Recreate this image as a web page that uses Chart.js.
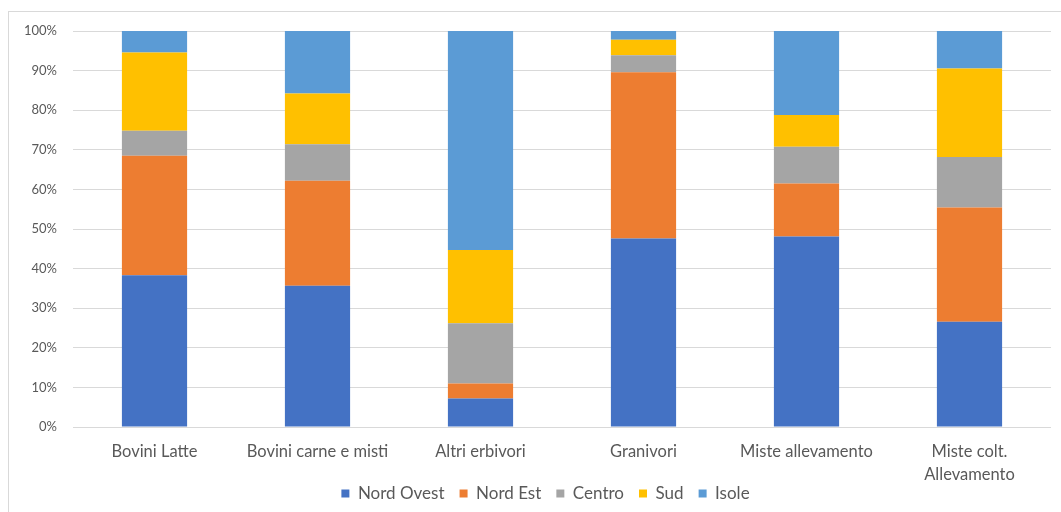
<!DOCTYPE html>
<html>
<head>
<meta charset="utf-8">
<script src="https://cdn.jsdelivr.net/npm/chart.js@4/dist/chart.umd.min.js"></script>
<style>
  html, body { margin: 0; padding: 0; background: #fff; }
  #wrap { position: relative; width: 1061px; height: 512px; overflow: hidden; }
  #frame { position: absolute; left: 8px; top: 11px; width: 1100px; height: 600px; border: 1px solid #d9d9d9; box-sizing: border-box; }
  canvas { position: absolute; left: 0; top: 0; }
</style>
</head>
<body>
<div id="wrap">
  <div id="frame"></div>
  <canvas id="c" width="1061" height="512"></canvas>
</div>
<script>
const categories = ["Bovini Latte", "Bovini carne e misti", "Altri erbivori", "Granivori", "Miste allevamento", ["Miste colt.", "Allevamento"]];
const nordOvest = [38.3, 35.7, 7.2, 47.6, 48.1, 26.6];
const nordEst   = [30.2, 26.5, 3.8, 42.0, 13.4, 28.8];
const centro    = [6.3, 9.2, 15.2, 4.3, 9.3, 12.8];
const sud       = [19.8, 12.8, 18.5, 3.9, 8.0, 22.3];
const isole     = [5.4, 15.8, 55.3, 2.2, 21.2, 9.5];
const yTicks = [0, 10, 20, 30, 40, 50, 60, 70, 80, 90, 100];

const FONT = "Lato, 'Open Sans', sans-serif";
const TXT = "#595959";

const mk = (label, data, color) => ({
  label, data, backgroundColor: color, borderWidth: 0,
  categoryPercentage: 0.8, barPercentage: 0.5
});

const shiftLegend = {
  id: "shiftLegend",
  afterLayout(chart) {
    if (chart.legend) { chart.legend.left += 20; chart.legend.right += 20; }
  }
};

new Chart(document.getElementById("c"), {
  type: "bar",
  data: {
    labels: categories,
    datasets: [
      mk("Nord Ovest", nordOvest, "#4472C4"),
      mk("Nord Est", nordEst, "#ED7D31"),
      mk("Centro", centro, "#A5A5A5"),
      mk("Sud", sud, "#FFC000"),
      mk("Isole", isole, "#5B9BD5")
    ]
  },
  plugins: [shiftLegend],
  options: {
    responsive: false,
    animation: false,
    devicePixelRatio: 1,
    layout: { padding: { left: 0, right: 10, top: 31, bottom: 0 } },
    plugins: {
      tooltip: { enabled: false },
      legend: {
        position: "bottom",
        labels: {
          font: { family: FONT, size: 17 },
          color: TXT,
          boxWidth: 8, boxHeight: 8, padding: 2,
          generateLabels: (chart) => {
            const items = Chart.defaults.plugins.legend.labels.generateLabels(chart);
            const n = items.length;
            items.forEach((it, i) => { if (i < n - 1) it.text = it.text + "\u00a0\u00a0\u00a0"; });
            return items;
          }
        }
      }
    },
    scales: {
      x: {
        stacked: true,
        grid: { display: false, drawTicks: false },
        border: { display: false },
        ticks: {
          color: TXT, padding: 13, maxRotation: 0, autoSkip: false,
          font: { family: FONT, size: 16.5, lineHeight: 1.39 }
        },
        afterFit: (s) => { s.height = 56; }
      },
      y: {
        stacked: true,
        min: 0, max: 100,
        afterBuildTicks: (s) => { s.ticks = yTicks.map(v => ({ value: v })); },
        grid: { color: "#d9d9d9", lineWidth: 1, drawTicks: false },
        border: { display: false },
        ticks: {
          color: TXT, padding: 16,
          font: { family: FONT, size: 13 },
          callback: (v) => v + "%"
        },
        afterFit: (s) => { s.width = 73; }
      }
    }
  }
});
</script>
</body>
</html>
